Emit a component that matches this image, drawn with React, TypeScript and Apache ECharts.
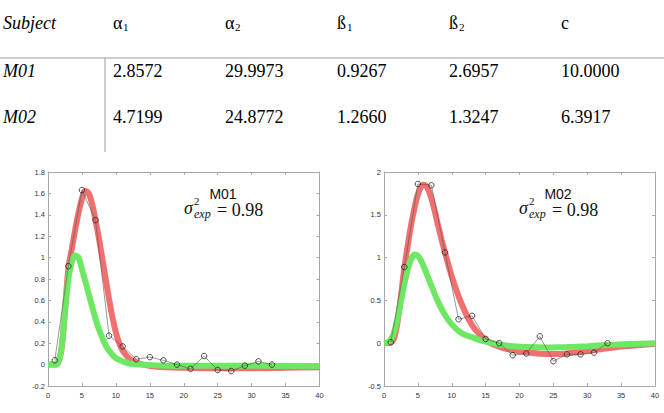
import React, { useEffect, useRef } from "react";
import * as echarts from "echarts";

// ---------- table data ----------
const tableHeaders = ["Subject", "α", "α", "ß", "ß", "c"];
const tableHeaderSubs = ["", "1", "2", "1", "2", ""];
const subjects = ["M01", "M02"];
const valuesM01 = ["2.8572", "29.9973", "0.9267", "2.6957", "10.0000"];
const valuesM02 = ["4.7199", "24.8772", "1.2660", "1.3247", "6.3917"];

// ---------- chart data ----------
const annotationVar = "0.98";

const dataM01: number[][] = [
  [1, 0.04], [3, 0.92], [5, 1.63], [7, 1.35], [9, 0.27], [11, 0.17], [13, 0.05],
  [15, 0.07], [17, 0.04], [19, 0.0], [21, -0.04], [23, 0.08], [25, -0.05],
  [27, -0.06], [29, -0.01], [31, 0.03], [33, 0.0],
];
const redM01: number[][] = [
  [0, 0], [1, 0], [1.5, 0.02], [2, 0.15], [2.5, 0.5], [3, 0.9], [3.5, 1.08],
  [4, 1.26], [4.5, 1.42], [5, 1.55], [5.5, 1.625], [6, 1.6], [6.5, 1.5],
  [7, 1.35], [7.5, 1.18], [8, 0.99], [8.5, 0.8], [9, 0.61], [9.5, 0.44],
  [10, 0.3], [10.5, 0.2], [11, 0.13], [12, 0.055], [13, 0.02], [14, 0.0],
  [16, -0.02], [20, -0.03], [25, -0.035], [30, -0.035], [35, -0.03], [40, -0.025],
];
const greenM01: number[][] = [
  [0, 0], [1, 0], [1.5, 0.02], [2, 0.16], [2.5, 0.5], [3, 0.8], [3.5, 0.96],
  [4, 1.02], [4.5, 1.0], [5, 0.89], [5.5, 0.78], [6, 0.66], [6.5, 0.54],
  [7, 0.43], [7.5, 0.33], [8, 0.25], [8.5, 0.18], [9, 0.13], [10, 0.06],
  [11, 0.03], [12, 0.01], [14, 0.0], [17, -0.01], [40, -0.012],
];

const dataM02: number[][] = [
  [1, 0.01], [3, 0.89], [5, 1.86], [7, 1.845], [9, 1.06], [11, 0.28], [13, 0.32],
  [15, 0.05], [17, 0.0], [19, -0.14], [21, -0.12], [23, 0.08], [25, -0.21],
  [27, -0.13], [29, -0.13], [31, -0.11], [33, 0.0],
];
const redM02: number[][] = [
  [0, 0], [1, 0.01], [1.5, 0.06], [2, 0.25], [2.5, 0.55], [3, 0.88], [3.5, 1.14],
  [4, 1.38], [4.5, 1.58], [5, 1.74], [5.5, 1.83], [5.8, 1.85], [6.2, 1.84],
  [6.5, 1.8], [7, 1.69], [7.5, 1.54], [8, 1.37], [8.5, 1.21], [9, 1.06],
  [10, 0.78], [11, 0.55], [12, 0.36], [13, 0.21], [14, 0.11], [15, 0.04],
  [16, -0.01], [17, -0.04], [18, -0.065], [20, -0.095], [22, -0.115],
  [24, -0.125], [26, -0.125], [28, -0.11], [30, -0.09], [32, -0.07],
  [35, -0.04], [38, -0.02], [40, -0.01],
];
const greenM02: number[][] = [
  [0, 0], [0.5, 0.01], [1, 0.04], [1.5, 0.13], [2, 0.29], [2.5, 0.49], [3, 0.69],
  [3.5, 0.86], [4, 0.98], [4.5, 1.035], [5, 1.02], [5.5, 0.96], [6, 0.87],
  [6.5, 0.77], [7, 0.67], [8, 0.48], [9, 0.33], [10, 0.22], [11, 0.145],
  [12, 0.095], [13, 0.07], [14, 0.04], [15, 0.02], [17, -0.015], [19, -0.035],
  [21, -0.045], [24, -0.05], [27, -0.045], [30, -0.035], [33, -0.02],
  [36, -0.01], [40, 0.0],
];

const xRange = [0, 40, 5];
const yRangeM01 = [-0.2, 1.8, 0.2];
const yRangeM02 = [-0.5, 2, 0.5];

// ---------- styling ----------
const SERIF = "'Liberation Serif', 'Times New Roman', serif";
const SANS = "'Liberation Sans', Arial, sans-serif";
const FRAME = "#a8a8a8";
const LABEL = "#333";
const RED = "#f07070";
const GREEN = "#6ee862";

const colX = [3, 113, 225, 337, 449, 561];
const headerY = 23;
const rowY = [71, 117];

function buildTableGraphics() {
  const g: any[] = [];
  tableHeaders.forEach((h, i) => {
    g.push({
      type: "text",
      style: {
        text: h, x: colX[i], y: headerY, fill: "#000",
        font: `${i === 0 ? "italic " : ""}18px ${SERIF}`,
        textAlign: "left", textVerticalAlign: "middle",
      },
    });
    if (tableHeaderSubs[i]) {
      g.push({
        type: "text",
        style: {
          text: tableHeaderSubs[i], x: colX[i] + 10, y: headerY + 4, fill: "#000",
          font: `11px ${SERIF}`, textAlign: "left", textVerticalAlign: "middle",
        },
      });
    }
  });
  const rows = [valuesM01, valuesM02];
  subjects.forEach((s, r) => {
    g.push({
      type: "text",
      style: {
        text: s, x: colX[0], y: rowY[r], fill: "#000", font: `italic 18px ${SERIF}`,
        textAlign: "left", textVerticalAlign: "middle",
      },
    });
    rows[r].forEach((v, c) => {
      g.push({
        type: "text",
        style: {
          text: v, x: colX[c + 1], y: rowY[r], fill: "#000", font: `18px ${SERIF}`,
          textAlign: "left", textVerticalAlign: "middle",
        },
      });
    });
  });
  g.push({ type: "line", shape: { x1: 0, y1: 58, x2: 664, y2: 58 }, style: { stroke: "#9a9a9a", lineWidth: 1 } });
  g.push({ type: "line", shape: { x1: 105, y1: 58, x2: 105, y2: 152 }, style: { stroke: "#9a9a9a", lineWidth: 1 } });
  return g;
}

function buildAnnotation(name: string, dx: number) {
  return [
    { type: "text", style: { text: name, x: 223 + dx, y: 194, fill: "#111", font: `14px ${SANS}`, textAlign: "center", textVerticalAlign: "middle" } },
    { type: "text", style: { text: "σ", x: 184 + dx, y: 208, fill: "#111", font: `italic 18px ${SERIF}`, textAlign: "left", textVerticalAlign: "middle" } },
    { type: "text", style: { text: "2", x: 194 + dx, y: 201, fill: "#111", font: `11px ${SERIF}`, textAlign: "left", textVerticalAlign: "middle" } },
    { type: "text", style: { text: "exp", x: 194 + dx, y: 213.5, fill: "#111", font: `italic 12px ${SERIF}`, textAlign: "left", textVerticalAlign: "middle" } },
    { type: "text", style: { text: "= " + annotationVar, x: 217 + dx, y: 210, fill: "#111", font: `18px ${SERIF}`, textAlign: "left", textVerticalAlign: "middle" } },
  ];
}

function axisPair(gridIndex: number, kind: "x" | "y", range: number[]) {
  const base: any = {
    type: "value", gridIndex, min: range[0], max: range[1], interval: range[2],
    axisLine: { show: true, onZero: false, lineStyle: { color: FRAME, width: 1 } },
    axisTick: { show: true, inside: true, length: 3, lineStyle: { color: FRAME } },
    splitLine: { show: false },
  };
  const main = {
    ...base,
    position: kind === "x" ? "bottom" : "left",
    axisLabel: { show: true, color: LABEL, fontSize: 7.5, fontFamily: SANS, margin: kind === "x" ? 5 : 3 },
  };
  const opp = {
    ...base,
    position: kind === "x" ? "top" : "right",
    axisLabel: { show: false },
  };
  return [main, opp];
}

function seriesFor(xi: number, yi: number, data: number[][], red: number[][], green: number[][]) {
  return [
    {
      type: "line", xAxisIndex: xi, yAxisIndex: yi, data: red, showSymbol: false, symbol: "none",
      smooth: 0.3, lineStyle: { color: RED, width: 6 }, z: 3, silent: true,
    },
    {
      type: "line", xAxisIndex: xi, yAxisIndex: yi, data: green, showSymbol: false, symbol: "none",
      smooth: 0.3, lineStyle: { color: GREEN, width: 6 }, z: 4, silent: true,
    },
    {
      type: "line", xAxisIndex: xi, yAxisIndex: yi, data, symbol: "circle", symbolSize: 5.5,
      itemStyle: { color: "rgba(0,0,0,0)", borderColor: "#222", borderWidth: 0.8 },
      lineStyle: { color: "#555", width: 0.6 }, z: 5, silent: true,
    },
  ];
}

export default function App() {
  const ref = useRef<HTMLDivElement>(null);
  useEffect(() => {
    if (!ref.current) return;
    const chart = echarts.init(ref.current, null, { renderer: "svg" });
    const [x0, x0t] = axisPair(0, "x", xRange);
    const [x1, x1t] = axisPair(1, "x", xRange);
    const [y0, y0r] = axisPair(0, "y", yRangeM01);
    const [y1, y1r] = axisPair(1, "y", yRangeM02);
    chart.setOption({
      animation: false,
      backgroundColor: "#fff",
      grid: [
        { left: 48, right: 664 - 319.5, top: 172, bottom: 413 - 386, containLabel: false },
        { left: 384, right: 664 - 655, top: 172, bottom: 413 - 386, containLabel: false },
      ],
      xAxis: [x0, x0t, x1, x1t],
      yAxis: [y0, y0r, y1, y1r],
      series: [
        ...seriesFor(0, 0, dataM01, redM01, greenM01),
        ...seriesFor(2, 2, dataM02, redM02, greenM02),
      ],
      graphic: [
        ...buildTableGraphics(),
        ...buildAnnotation(subjects[0], 0),
        ...buildAnnotation(subjects[1], 335),
      ],
    });
    return () => chart.dispose();
  }, []);
  return (
    <div
      ref={ref}
      style={{ position: "absolute", left: 0, top: 0, width: 664, height: 413, background: "#fff" }}
    />
  );
}
